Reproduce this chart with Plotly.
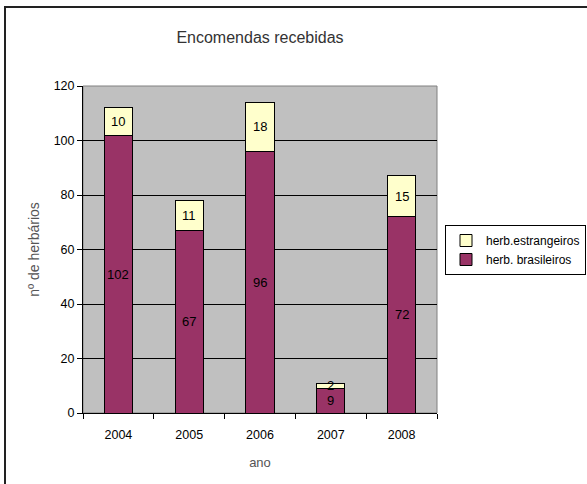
import plotly.graph_objects as go

years = ["2004", "2005", "2006", "2007", "2008"]
brasileiros = [102, 67, 96, 9, 72]
estrangeiros = [10, 11, 18, 2, 15]
y_ticks = [0, 20, 40, 60, 80, 100, 120]

font = "Liberation Sans, Arial, sans-serif"

fig = go.Figure()
fig.add_trace(go.Bar(
    x=years, y=brasileiros, name="herb. brasileiros",
    marker=dict(color="#993366", line=dict(color="black", width=1)),
))
fig.add_trace(go.Bar(
    x=years, y=estrangeiros, name="herb.estrangeiros",
    marker=dict(color="#FFFFCC", line=dict(color="black", width=1)),
))

# value labels centred in each segment (category index positions)
for i, yr in enumerate(years):
    b = brasileiros[i]
    e = estrangeiros[i]
    fig.add_annotation(x=i, y=b / 2, text=str(b), showarrow=False,
                       font=dict(family=font, size=13, color="black"))
    fig.add_annotation(x=i, y=b + e / 2, text=str(e), showarrow=False,
                       font=dict(family=font, size=13, color="black"))

L, R, T, B = 83, 150, 86, 71
pw = 587 - L - R
ph = 484 - T - B

# plot area border (gray) and outer chart border
fig.add_shape(type="rect", xref="paper", yref="paper", x0=0, x1=1, y0=0, y1=1,
              line=dict(color="#808080", width=1), layer="below")
fig.add_shape(type="rect", xref="paper", yref="paper",
              x0=(5 - L) / pw, x1=(600 - L) / pw,
              y0=(484 - B - 500) / ph, y1=(484 - B - 7) / ph,
              line=dict(color="#222222", width=2))

fig.update_layout(
    width=587, height=484,
    margin=dict(l=L, r=R, t=T, b=B, autoexpand=False),
    paper_bgcolor="white", plot_bgcolor="#C0C0C0",
    barmode="stack", bargap=0.6,
    font=dict(family=font, size=12, color="black"),
    title=dict(text="Encomendas recebidas", x=0.5, xref="paper", xanchor="center",
               y=1 - 37 / 484, yanchor="middle", yref="container",
               font=dict(family=font, size=16, color="#333333")),
    showlegend=True,
    legend=dict(x=(445 - L) / pw, xanchor="left", y=(484 - B - 225) / ph, yanchor="top",
                bordercolor="black", borderwidth=1, bgcolor="white",
                traceorder="reversed", font=dict(family=font, size=12, color="black"),
                tracegroupgap=0, itemwidth=30),
    xaxis=dict(
        type="category", range=[-0.5, len(years) - 0.5],
        showline=True, linecolor="black", linewidth=1,
        ticks="outside", ticklen=5, tickcolor="black", tickson="boundaries",
        ticklabelstandoff=10,
        tickfont=dict(family=font, size=12.5, color="black"),
        title=dict(text="ano", standoff=16, font=dict(family=font, size=13, color="#555555")),
        showgrid=False,
    ),
    yaxis=dict(
        range=[0, 120], tickvals=y_ticks,
        showline=True, linecolor="black", linewidth=1,
        ticks="outside", ticklen=5, tickcolor="black",
        tickfont=dict(family=font, size=12.5, color="black"),
        showgrid=True, gridcolor="black", gridwidth=1,
        zeroline=False,
        title=dict(text="nº de herbários", standoff=10,
                   font=dict(family=font, size=14, color="#555555")),
    ),
)

fig.write_html("out.html")
